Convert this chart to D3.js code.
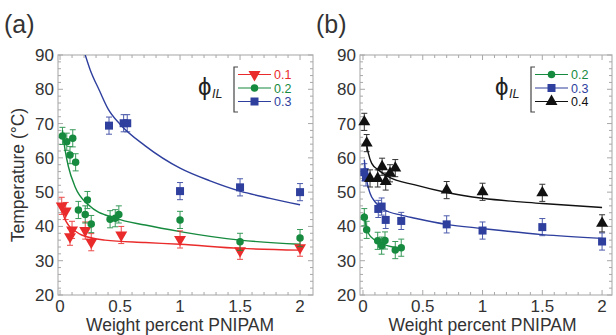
<!DOCTYPE html>
<html>
<head>
<meta charset="utf-8">
<script src="https://d3js.org/d3.v7.min.js"></script>
<style>
  body { margin: 0; background: #fff; }
  text { font-family: "Liberation Sans", Arial, Helvetica, sans-serif; }
</style>
</head>
<body>
<svg id="chart" width="616" height="335"></svg>
<script>
// ---------- data ----------
const xTicks = [0, 0.5, 1, 1.5, 2];
const yTicks = [20, 30, 40, 50, 60, 70, 80, 90];

// panel (a)
const a01X = [0.014, 0.047, 0.083, 0.10, 0.21, 0.26, 0.51, 1.0, 1.5, 2.0];
const a01Y = [46.0, 44.5, 37.0, 39.0, 38.8, 35.4, 37.5, 36.2, 32.9, 33.8];
const a02X = [0.02, 0.056, 0.083, 0.106, 0.13, 0.153, 0.21, 0.228, 0.26, 0.417, 0.46, 0.49, 1.0, 1.5, 2.0];
const a02Y = [66.4, 64.7, 60.8, 65.7, 58.7, 44.8, 43.5, 47.7, 40.7, 42.1, 42.4, 43.5, 41.9, 35.5, 36.6];
const a03X = [0.408, 0.53, 0.56, 1.0, 1.5, 2.0];
const a03Y = [69.4, 70.1, 70.1, 50.3, 51.4, 50.0];

// fitted curves (a)
const fitA01X = [0.01, 0.04, 0.07, 0.12, 0.18, 0.375, 0.71, 1.0, 1.5, 2.0];
const fitA01Y = [45.6, 42.2, 40.4, 38.8, 37.5, 36.0, 35.3, 34.8, 33.6, 33.1];
const fitA02X = [0.02, 0.042, 0.07, 0.125, 0.236, 0.46, 0.71, 1.0, 1.5, 2.0];
const fitA02Y = [68.1, 62.3, 57.4, 51.6, 46.3, 42.4, 40.4, 38.5, 36.0, 34.8];
const fitA03X = [0.21, 0.25, 0.33, 0.40, 0.5, 0.71, 1.0, 1.25, 1.5, 1.75, 2.0];
const fitA03Y = [90, 85.8, 79.5, 74.3, 69.8, 63.5, 57.0, 53.3, 50.3, 48.2, 46.3];

// panel (b)
const b02X = [0.011, 0.031, 0.123, 0.156, 0.184, 0.27, 0.32];
const b02Y = [42.7, 39.0, 35.8, 34.4, 35.9, 33.1, 33.8];
const b03X = [0.011, 0.025, 0.128, 0.156, 0.19, 0.32, 0.70, 1.0, 1.5, 2.0];
const b03Y = [55.8, 54.3, 45.1, 45.8, 41.9, 41.6, 40.6, 38.8, 39.8, 35.6];
const b04X = [0.011, 0.031, 0.059, 0.123, 0.16, 0.19, 0.226, 0.27, 0.70, 1.0, 1.5, 2.0];
const b04Y = [70.5, 64.3, 54.0, 54.0, 57.4, 53.1, 55.5, 57.0, 50.6, 50.1, 49.8, 40.9];

const fitB02X = [0.011, 0.017, 0.045, 0.10, 0.184, 0.32];
const fitB02Y = [44.0, 41.9, 38.0, 36.0, 34.6, 33.6];
const fitB03X = [0.011, 0.017, 0.031, 0.059, 0.10, 0.184, 0.32, 0.435, 0.70, 1.0, 1.5, 2.0];
const fitB03Y = [59.5, 57.4, 53.5, 49.7, 47.2, 44.8, 43.3, 42.4, 40.6, 39.4, 37.6, 36.5];
const fitB04X = [0.031, 0.045, 0.073, 0.128, 0.21, 0.435, 0.70, 1.0, 1.5, 2.0];
const fitB04Y = [63.8, 61.3, 58.4, 56.5, 54.5, 52.1, 49.9, 48.2, 46.7, 45.5];

const errBar = 2.5;

const RED = "#ea2b2b", GREEN = "#168a3e", BLUE = "#2e3f9e", BLACK = "#111111";

const svg = d3.select("#chart");

function zip(xs, ys) { return xs.map((x, i) => ({ x: x, y: ys[i] })); }

function marker(type) {
  if (type === "tri") return { sym: d3.symbol().type(d3.symbolTriangle).size(62), rot: 0 };
  if (type === "triDown") return { sym: d3.symbol().type(d3.symbolTriangle).size(62), rot: 180 };
  if (type === "square") return { sym: d3.symbol().type(d3.symbolSquare).size(64), rot: 0 };
  return { sym: d3.symbol().type(d3.symbolCircle).size(44), rot: 0 };
}

function drawPanel(p) {
  const x = d3.scaleLinear().domain(p.xDomain).range([p.left, p.right]);
  const y = d3.scaleLinear().domain([20, 90]).range([295, 55]);
  const g = svg.append("g");

  // frame
  g.append("rect")
    .attr("x", p.left).attr("y", 55)
    .attr("width", p.right - p.left).attr("height", 240)
    .attr("fill", "none").attr("stroke", "#b4b4b4").attr("stroke-width", 1.2);

  // inward ticks
  const tickCol = "#a8a8a8";
  const xMinor = d3.range(0, 21).map(i => i / 10);
  xMinor.forEach(v => {
    const major = Math.abs(v * 2 - Math.round(v * 2)) < 1e-6;
    const len = major ? 5 : 3;
    g.append("line").attr("x1", x(v)).attr("x2", x(v)).attr("y1", 295).attr("y2", 295 - len)
      .attr("stroke", tickCol);
    g.append("line").attr("x1", x(v)).attr("x2", x(v)).attr("y1", 55).attr("y2", 55 + len)
      .attr("stroke", tickCol);
  });
  d3.range(20, 91, 2).forEach(v => {
    const len = v % 10 === 0 ? 5 : 3;
    g.append("line").attr("x1", p.left).attr("x2", p.left + len).attr("y1", y(v)).attr("y2", y(v))
      .attr("stroke", tickCol);
    g.append("line").attr("x1", p.right).attr("x2", p.right - len).attr("y1", y(v)).attr("y2", y(v))
      .attr("stroke", tickCol);
  });

  // tick labels
  g.selectAll(".xl").data(xTicks).enter().append("text")
    .attr("x", d => x(d)).attr("y", 312)
    .attr("text-anchor", "middle").attr("font-size", 17).attr("fill", "#333")
    .text(d => d);
  g.selectAll(".yl").data(yTicks).enter().append("text")
    .attr("x", p.left - 4).attr("y", d => y(d) + 6)
    .attr("text-anchor", "end").attr("font-size", 17).attr("fill", "#333")
    .text(d => d);

  // x title
  g.append("text").attr("x", (x(0) + x(2)) / 2).attr("y", 331)
    .attr("text-anchor", "middle").attr("font-size", 17.5).attr("fill", "#333")
    .text("Weight percent PNIPAM");

  // panel label
  g.append("text").attr("x", p.labelX).attr("y", 33)
    .attr("font-size", 25).attr("fill", "#333").text(p.label);

  const clip = "clip-" + p.label.replace(/[()]/g, "");
  svg.append("clipPath").attr("id", clip).append("rect")
    .attr("x", p.left).attr("y", 55).attr("width", p.right - p.left).attr("height", 240);

  // fitted curves
  const line = d3.line().x(d => x(d.x)).y(d => y(d.y)).curve(d3.curveMonotoneX);
  p.series.forEach(s => {
    g.append("path").datum(zip(s.fitX, s.fitY))
      .attr("clip-path", "url(#" + clip + ")")
      .attr("fill", "none").attr("stroke", s.color).attr("stroke-width", 1.4)
      .attr("d", line);
  });

  // error bars + markers
  p.series.forEach(s => {
    const pts = zip(s.x, s.y);
    const eb = g.append("g").attr("stroke", s.color).attr("stroke-width", 1).attr("opacity", 0.85);
    pts.forEach(d => {
      eb.append("line").attr("x1", x(d.x)).attr("x2", x(d.x))
        .attr("y1", y(d.y - errBar)).attr("y2", y(d.y + errBar));
      [d.y - errBar, d.y + errBar].forEach(v => {
        eb.append("line").attr("x1", x(d.x) - 3).attr("x2", x(d.x) + 3)
          .attr("y1", y(v)).attr("y2", y(v));
      });
    });
    const m = marker(s.shape);
    g.selectAll(null).data(pts).enter().append("path")
      .attr("d", m.sym)
      .attr("transform", d => "translate(" + x(d.x) + "," + y(d.y) + ") rotate(" + m.rot + ")")
      .attr("fill", s.color);
  });

  // legend
  const lg = g.append("g");
  lg.append("text").attr("x", p.legX - 36).attr("y", 95)
    .attr("font-size", 24).attr("fill", "#222").text("\u03D5");
  lg.append("text").attr("x", p.legX - 22).attr("y", 98)
    .attr("font-size", 12.5).attr("font-style", "italic").attr("fill", "#222").text("IL");
  lg.append("path")
    .attr("d", "M" + (p.legX + 4) + ",67 H" + p.legX + " V112 H" + (p.legX + 4))
    .attr("fill", "none").attr("stroke", "#444").attr("stroke-width", 1.2);
  p.series.forEach((s, i) => {
    const ry = 74.5 + i * 13.5;
    const x0 = p.legX + 4, x1 = p.legX + 37;
    lg.append("line").attr("x1", x0).attr("x2", x1).attr("y1", ry).attr("y2", ry)
      .attr("stroke", s.color).attr("stroke-width", 1.2);
    const m = marker(s.shape);
    lg.append("path").attr("d", m.sym)
      .attr("transform", "translate(" + ((x0 + x1) / 2) + "," + ry + ") rotate(" + m.rot + ")")
      .attr("fill", s.color);
    lg.append("text").attr("x", x1 + 3).attr("y", ry + 4.5)
      .attr("font-size", 12.5).attr("fill", s.color).text(s.name);
  });
}

drawPanel({
  label: "(a)", labelX: 4,
  left: 58, right: 313, xDomain: [-0.017, 2.108],
  legX: 234,
  series: [
    { name: "0.1", color: RED, shape: "triDown", x: a01X, y: a01Y, fitX: fitA01X, fitY: fitA01Y },
    { name: "0.2", color: GREEN, shape: "circle", x: a02X, y: a02Y, fitX: fitA02X, fitY: fitA02Y },
    { name: "0.3", color: BLUE, shape: "square", x: a03X, y: a03Y, fitX: fitA03X, fitY: fitA03Y }
  ]
});

drawPanel({
  label: "(b)", labelX: 316,
  left: 360, right: 612, xDomain: [-0.025, 2.083],
  legX: 531,
  series: [
    { name: "0.2", color: GREEN, shape: "circle", x: b02X, y: b02Y, fitX: fitB02X, fitY: fitB02Y },
    { name: "0.3", color: BLUE, shape: "square", x: b03X, y: b03Y, fitX: fitB03X, fitY: fitB03Y },
    { name: "0.4", color: BLACK, shape: "tri", x: b04X, y: b04Y, fitX: fitB04X, fitY: fitB04Y }
  ]
});

// shared y title
svg.append("text")
  .attr("transform", "translate(24,175) rotate(-90)")
  .attr("text-anchor", "middle").attr("font-size", 17.5).attr("fill", "#333")
  .text("Temperature (\u00B0C)");
</script>
</body>
</html>
